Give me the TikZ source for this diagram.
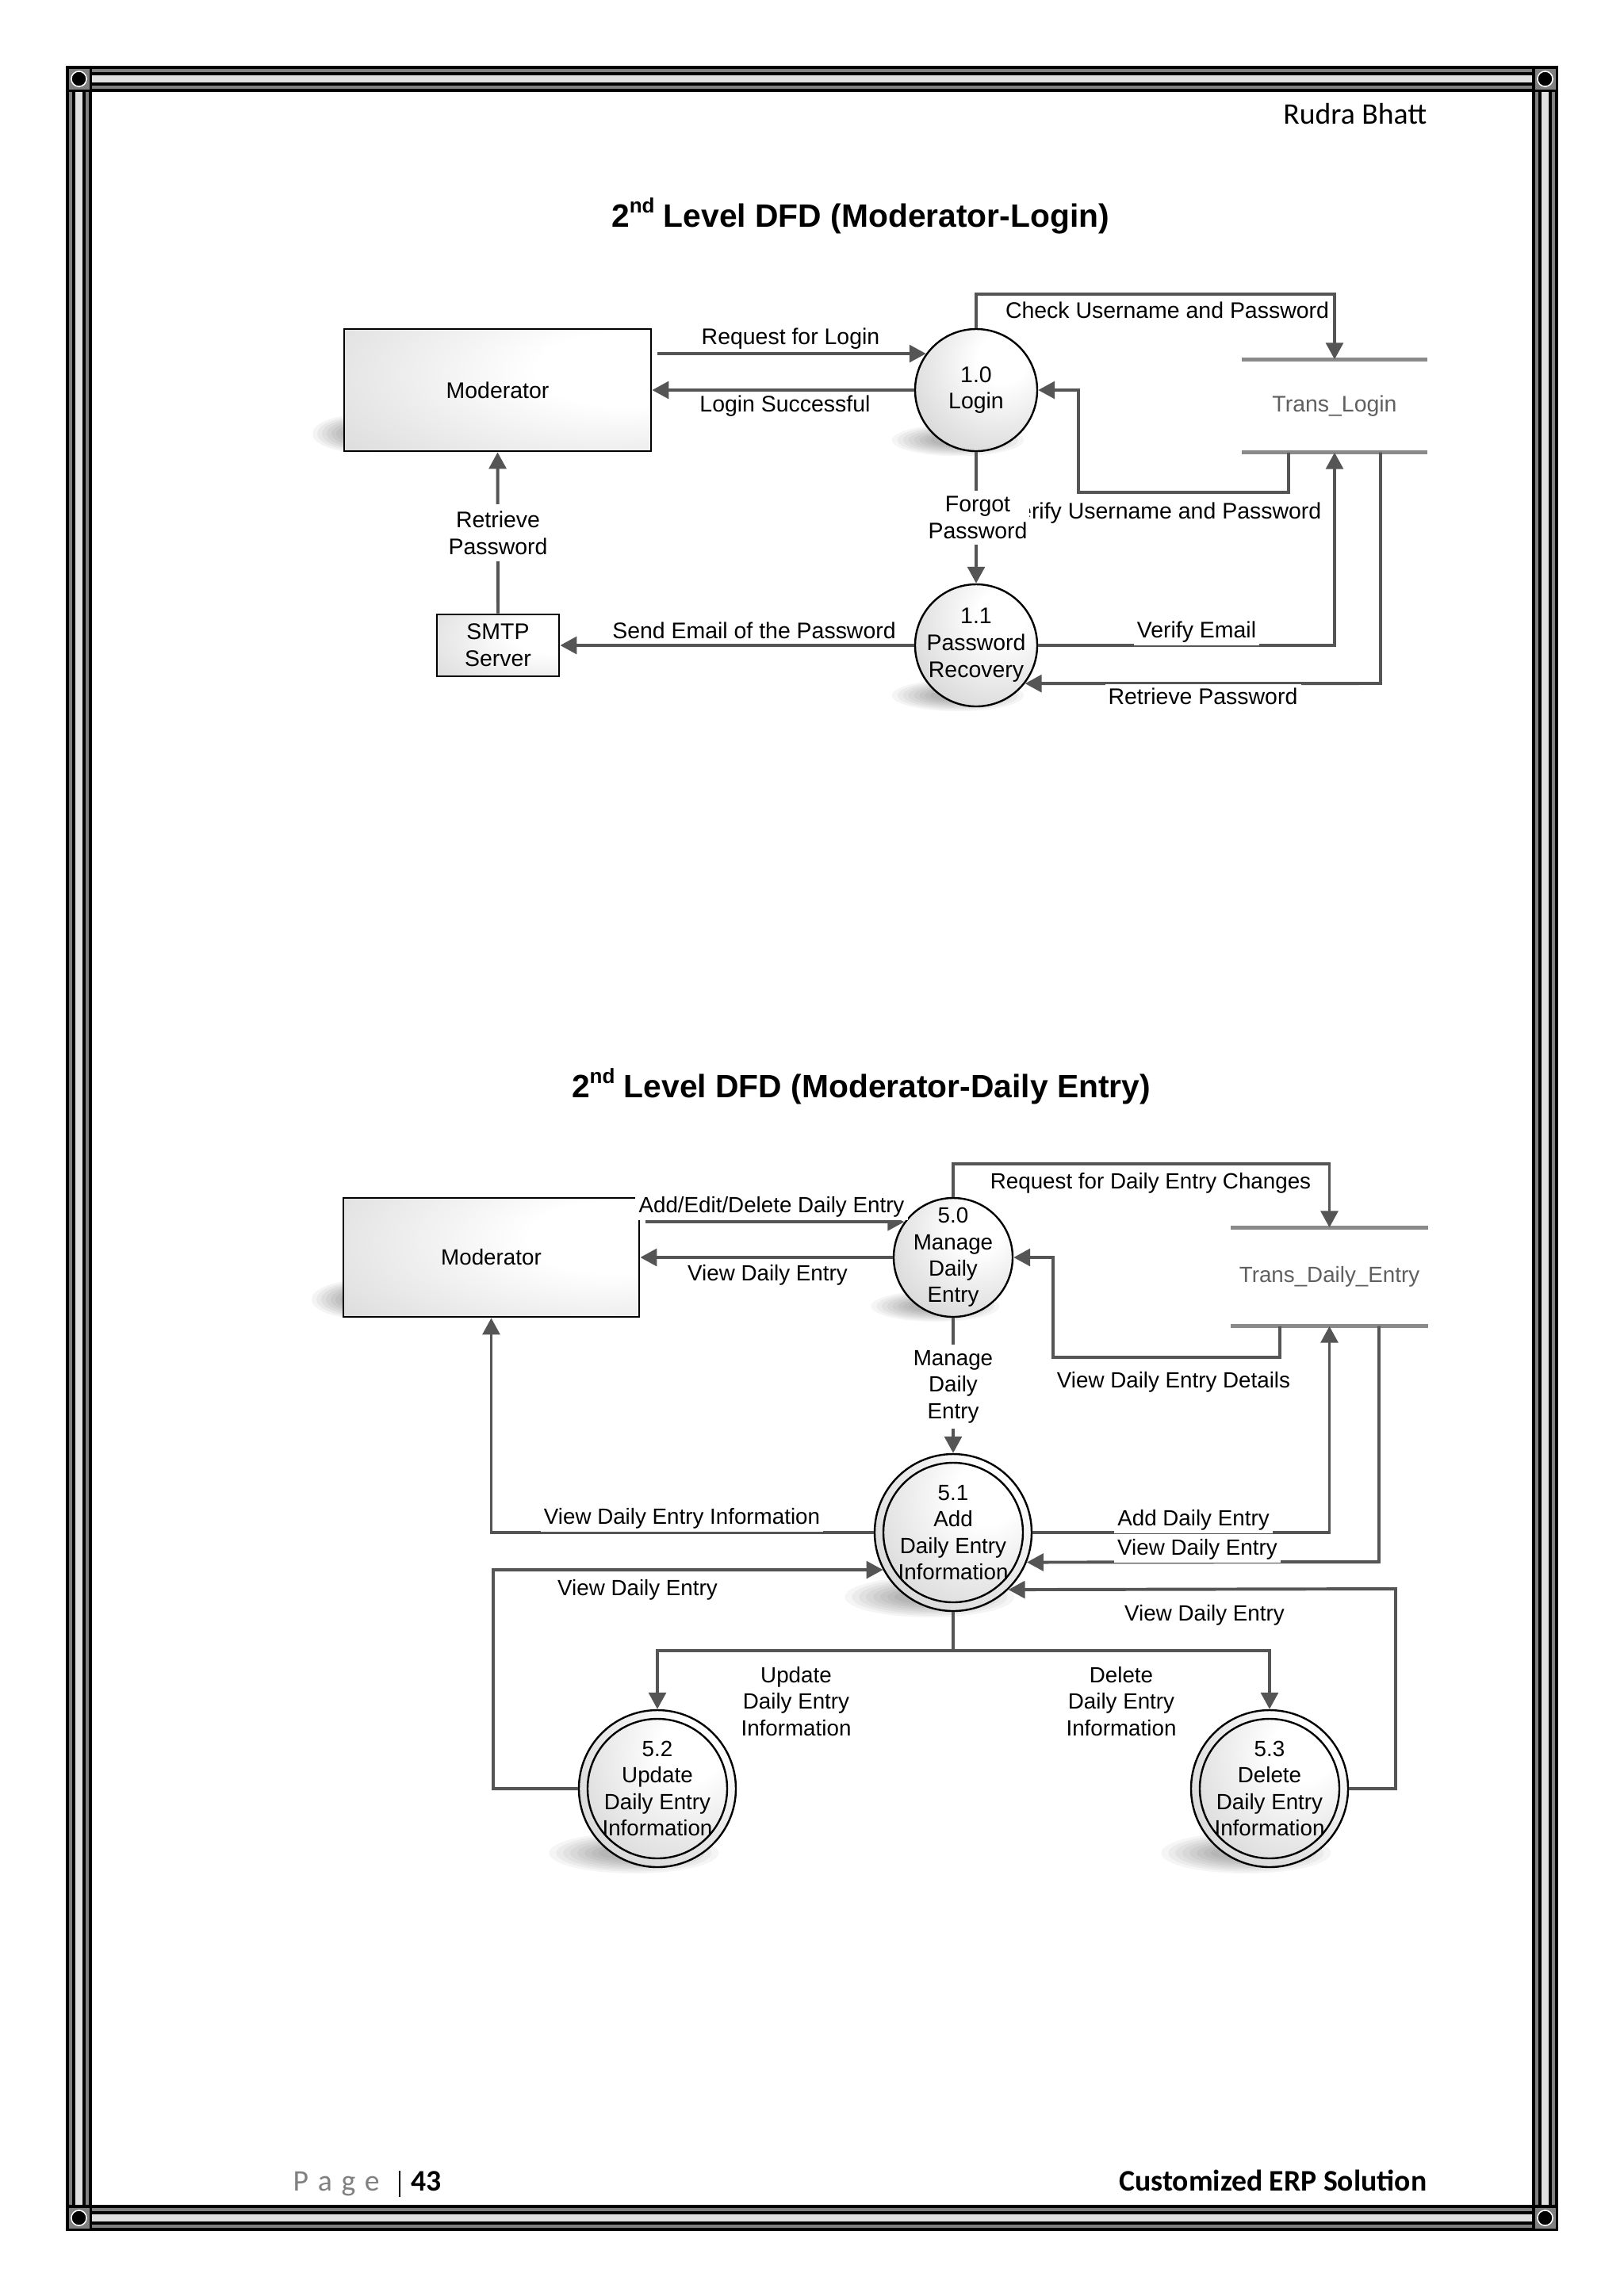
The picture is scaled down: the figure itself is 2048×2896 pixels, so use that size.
\documentclass[tikz,border=0pt]{standalone}
\usepackage{fontspec}
\setmainfont{Liberation Sans}
\newfontfamily\calfont{Carlito}
\usetikzlibrary{arrows.meta,calc}
\newlength\pu
\setlength\pu{0.010254cm}
\definecolor{lc}{HTML}{555555}
\definecolor{stc}{HTML}{8A8A8A}
\definecolor{bgray}{HTML}{808080}
\definecolor{blight}{HTML}{E0E0E0}
\definecolor{sttext}{HTML}{606060}
\pgfdeclareradialshading{procshade}{\pgfpoint{12bp}{14bp}}{color(0bp)=(white); color(10bp)=(white); color(60bp)=(black!27); color(100bp)=(black!27)}
\pgfdeclareradialshading{rectshade}{\pgfpoint{25bp}{10bp}}{color(0bp)=(white); color(15bp)=(white); color(75bp)=(black!24); color(100bp)=(black!26)}
\newcommand\dshadow[3]{%
  \foreach \k in {0,...,7}{%
    \fill[black,opacity=0.04] ({#1-0.3*#3},{#2+0.82*#3}) ellipse [x radius={(1.08-0.09*\k)*#3}, y radius={(0.26-0.024*\k)*#3}];
  }}
\newcommand\rshadow[2]{%
  \foreach \k in {0,...,7}{%
    \fill[black,opacity=0.045] ({#1+22},{#2-22}) ellipse [x radius={62-6*\k}, y radius={24-2.2*\k}];
  }}
\tikzset{
  flow/.style={draw=lc, line width=1.15pt, -{Triangle[length=6.1pt,width=6.3pt]}},
  proc/.style={circle, draw=black, line width=0.7pt, shade, shading=procshade, inner sep=0pt},
  ent/.style={rectangle, draw=black, line width=0.8pt, shade, shading=rectshade, inner sep=0pt},
  store/.style={rectangle, inner sep=0pt, text=sttext, font=\fontsize{8.3}{9.9}\selectfont},
  stline/.style={draw=stc, line width=1.35pt},
  txt/.style={font=\fontsize{8.3}{9.9}\selectfont, align=center, inner sep=0pt},
  txtb/.style={font=\fontsize{8.1}{9.75}\selectfont, align=center, inner sep=0pt},
  lbl/.style={font=\fontsize{8.3}{9.9}\selectfont, align=center, fill=white, inner sep=1.2pt},
  lblb/.style={font=\fontsize{8.1}{9.75}\selectfont, align=center, fill=white, inner sep=1.2pt},
  ttl/.style={font=\bfseries\fontsize{11.9}{14}\selectfont, anchor=base, inner sep=0pt},
  cal/.style={font=\calfont\fontsize{11}{13}\selectfont, inner sep=0pt}
}
\begin{document}
\begin{tikzpicture}[x=0.010254cm,y=-0.010254cm]
\useasboundingbox (0,0) rectangle (2048,2896);
\fill[white] (0,0) rectangle (2048,2896);
% ---------- page border ----------
\draw[black,line width=33\pu] (99.5,99.5) rectangle (1948.5,2797.5);
\draw[bgray,line width=25\pu] (99.5,99.5) rectangle (1948.5,2797.5);
\draw[black,line width=17\pu] (99.5,99.5) rectangle (1948.5,2797.5);
\draw[blight,line width=9\pu] (99.5,99.5) rectangle (1948.5,2797.5);
\foreach \cx/\cy in {99.5/99.5, 1948.5/99.5, 99.5/2797.5, 1948.5/2797.5}{
  \fill[black] (\cx-16.5,\cy-16.5) rectangle (\cx+16.5,\cy+16.5);
  \fill[bgray] (\cx-13,\cy-13) rectangle (\cx+13,\cy+13);
  \fill[black] (\cx,\cy) circle[radius=10\pu];
  \draw[white,line width=0.45pt] (\cx,\cy) circle[radius=9.6\pu];
}
% ---------- header / footer ----------
\node[cal, anchor=base east] (hdr) at (1800,156) {Rudra Bhatt};
\node[cal, anchor=base west, text=bgray] (pg) at (369,2763) {P\hspace{3.4pt}a\hspace{3.4pt}g\hspace{3.4pt}e};
\draw[black, line width=0.6pt] (504,2738) -- (504,2771);
\node[cal, font=\calfont\bfseries\fontsize{11}{13}\selectfont, anchor=base west] (pnum) at (518,2763) {43};
\node[cal, font=\calfont\bfseries\fontsize{11}{13}\selectfont, anchor=base east] (ftr) at (1800,2763) {Customized ERP Solution};
% ---------- titles ----------
\node[ttl] (t1) at (1085,286) {2\raisebox{0.42em}{\fontsize{7.6}{8}\selectfont nd} Level DFD (Moderator-Login)};
\node[ttl] (t2) at (1086,1384) {2\raisebox{0.42em}{\fontsize{7.6}{8}\selectfont nd} Level DFD (Moderator-Daily Entry)};

% =============== TOP DIAGRAM ===============
\rshadow{434}{569}
\dshadow{1231}{492}{77}
\dshadow{1231}{814}{77}
\node[ent, minimum width=387\pu, minimum height=154\pu] (mod) at (627.5,492) {};
\node[txt] (modt) at (mod) {Moderator};
\node[ent, minimum width=154\pu, minimum height=78\pu] (smtp) at (628,814) {};
\node[txt] (smtpt) at (smtp) {SMTP\\Server};
\node[proc, minimum size=154\pu] (login) at (1231,492) {};
\node[txt] (logint) at (login) {1.0\\Login};
\node[proc, minimum size=154\pu] (rec) at (1231,814) {};
\node[txt] (rect) at (rec) {1.1\\Password\\Recovery};
\node[store, minimum width=233\pu, minimum height=116\pu] (tl) at (1683,512) {Trans\_Login};
\draw[stline] (tl.north west) -- (tl.north east);
\draw[stline] (tl.south west) -- (tl.south east);

\coordinate (rq) at (mod.east |- login.144.2);
\draw[flow] ([xshift=1.8pt]rq) -- (login.144.2);
\draw[flow] (login.west) -- (login.west -| mod.east);
\coordinate (chk) at (1231,371);
\draw[flow] (login.north) -- (chk) -| (tl.north);
\coordinate (vu1) at (1625,621);
\coordinate (vu2) at (1360,621);
\draw[flow] (tl.south -| vu1) -- (vu1) -- (vu2) |- (login.east);
\draw[flow] (login.south) -- (rec.north);
\draw[flow] (rec.east) -| (tl.south);
\coordinate (rp1) at (1741,862);
\draw[flow] (tl.south -| rp1) -- (rp1) -- (rec.-38.6);
\draw[flow] (rec.west) -- (rec.west -| smtp.east);
\draw[flow] (smtp.north) -- (mod.south);

\node[lbl] (l1) at (997,427) {Request for Login};
\node[lbl] (l2) at (990,512) {Login Successful};
\node[lbl] (l3) at (1472,391) {Check Username and Password};
\node[lbl] (l4) at (1467,647) {Verify Username and Password};
\node[lbl, inner xsep=0.6pt, inner ysep=2pt] (l5) at (1233,653) {Forgot\\Password};
\node[lbl, inner sep=2.5pt] (l6) at (628,672) {Retrieve\\Password};
\node[lbl] (l7) at (951,795) {Send Email of the Password};
\node[lbl] (l8) at (1509,797) {Verify Email};
\node[lbl] (l9) at (1517,878) {Retrieve Password};

% =============== BOTTOM DIAGRAM ===============
\rshadow{433}{1661}
\dshadow{1202}{1586}{75}
\dshadow{1202}{1933}{99}
\dshadow{829}{2256}{99}
\dshadow{1601}{2256}{99}
\node[ent, minimum width=373\pu, minimum height=150\pu] (mod2) at (619.5,1586) {};
\node[txtb] (mod2t) at (mod2) {Moderator};
\node[proc, minimum size=150\pu] (m50) at (1202,1586) {};
\node[txtb] (m50t) at (m50) {5.0\\Manage\\Daily\\Entry};
\node[store, font=\fontsize{8.1}{9.75}\selectfont, minimum width=247\pu, minimum height=123\pu] (st2) at (1676.5,1610.5) {Trans\_Daily\_Entry};
\draw[stline] (st2.north west) -- (st2.north east);
\draw[stline] (st2.south west) -- (st2.south east);
\node[proc, minimum size=198\pu] (a51) at (1202,1933) {};
\node[proc, minimum size=198\pu] (u52) at (829,2256) {};
\node[proc, minimum size=198\pu] (d53) at (1601,2256) {};
\foreach \n in {a51,u52,d53}{\draw[black,line width=0.7pt] (\n.center) circle[radius=88\pu];}
\node[txtb] (a51t) at (a51) {5.1\\Add\\Daily Entry\\Information};
\node[txtb] (u52t) at (u52) {5.2\\Update\\Daily Entry\\Information};
\node[txtb] (d53t) at (d53) {5.3\\Delete\\Daily Entry\\Information};

\coordinate (rq2) at (1202,1468);
\draw[flow] (m50.north) -- (rq2) -| (st2.north);
\coordinate (ae) at (mod2.east |- m50.144.1);
\draw[flow] ([xshift=1.8pt]ae) -- (m50.144.1);
\draw[flow] (m50.west) -- (m50.west -| mod2.east);
\coordinate (vd1) at (1614,1712);
\coordinate (vd2) at (1328,1712);
\draw[flow] (st2.south -| vd1) -- (vd1) -- (vd2) |- (m50.east);
\draw[flow] (m50.south) -- (a51.north);
\draw[flow] (a51.west) -| (mod2.south);
\draw[flow] (a51.east) -| (st2.south);
\coordinate (vr1) at (1739,1970);
\draw[flow] (st2.south -| vr1) -- (vr1) -- (a51.-22);
\coordinate (vr2) at (1760,2004);
\draw[flow] (d53.east) -| (vr2) -- (a51.-46);
\coordinate (vl) at (622,1980);
\draw[flow] (u52.west) -| (vl) -- (a51.208);
\coordinate (br) at (1202,2082);
\draw[flow] (a51.south) -- (br) -| (u52.north);
\draw[flow] (br) -| (d53.north);

\node[lblb] (b1) at (973,1522) {Add/Edit/Delete Daily Entry};
\node[lblb] (b2) at (968,1608) {View Daily Entry};
\node[lblb] (b3) at (1451,1492) {Request for Daily Entry Changes};
\node[lblb] (b4) at (1480,1743) {View Daily Entry Details};
\node[lblb, inner sep=2pt] (b5) at (1202,1749) {Manage\\Daily\\Entry};
\node[lblb] (b6) at (860,1915) {View Daily Entry Information};
\node[lblb] (b7) at (1505,1917) {Add Daily Entry};
\node[lblb] (b8) at (1510,1954) {View Daily Entry};
\node[lblb] (b9) at (804,2005) {View Daily Entry};
\node[lblb] (b10) at (1519,2037) {View Daily Entry};
\node[lblb] (b11) at (1004,2146) {Update\\Daily Entry\\Information};
\node[lblb] (b12) at (1414,2146) {Delete\\Daily Entry\\Information};
\end{tikzpicture}
\end{document}
